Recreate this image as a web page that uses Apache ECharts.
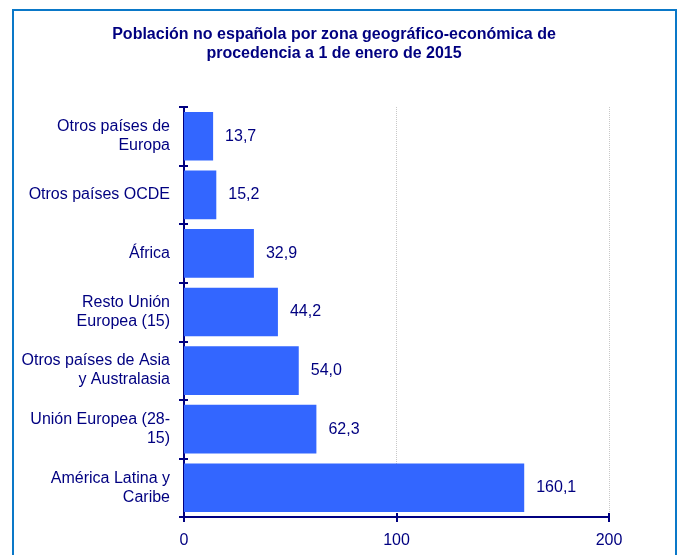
<!DOCTYPE html>
<html><head><meta charset="utf-8">
<script src="https://cdn.jsdelivr.net/npm/echarts@6/dist/echarts.min.js"></script>
<style>html,body{margin:0;padding:0;background:#fff}#c{width:679px;height:555px}</style>
</head><body><div id="c"></div>
<script>
const categories = ["Otros países de\nEuropa","Otros países OCDE","África","Resto Unión\nEuropea (15)","Otros países de Asia\ny Australasia","Unión Europea (28-\n15)","América Latina y\nCaribe"];
const values = [13.7, 15.2, 32.9, 44.2, 54.0, 62.3, 160.1];
const xTicks = [0, 100, 200];
const titleText = "Población no española por zona geográfico-económica de\nprocedencia a 1 de enero de 2015";
const navy = "#000080";
const font = "Liberation Sans, Arial, sans-serif";
const chart = echarts.init(document.getElementById('c'));
chart.setOption({
  animation:false,
  textStyle:{fontFamily:font},
  graphic:[{type:'rect',shape:{x:13,y:10,width:663,height:560},style:{fill:'none',stroke:'#0a78c8',lineWidth:2}}],
  title:{text:titleText,left:329,textAlign:'center',top:20,textStyle:{fontSize:16,fontWeight:'bold',color:navy,lineHeight:19,fontFamily:font}},
  grid:{left:184,right:70,top:107,bottom:38,containLabel:false},
  xAxis:[{type:'value',min:xTicks[0],max:xTicks[xTicks.length-1],interval:100,
    axisLine:{show:true,lineStyle:{color:navy,width:2}},
    axisTick:{show:true,length:5,lineStyle:{color:navy,width:2}},
    axisLabel:{color:navy,fontSize:16,margin:16},
    splitLine:{show:true,lineStyle:{color:'#c8c8c8',type:'dotted',width:1}}},
   {type:'value',position:'bottom',min:xTicks[0],max:xTicks[xTicks.length-1],interval:100,
    axisLine:{show:false},axisTick:{show:true,inside:true,length:4,lineStyle:{color:navy,width:2}},
    axisLabel:{show:false},splitLine:{show:false}}],
  yAxis:[{type:'category',data:categories,inverse:true,
    axisLine:{show:true,lineStyle:{color:navy,width:2}},
    axisTick:{show:true,length:5,lineStyle:{color:navy,width:2}},
    axisLabel:{color:navy,fontSize:16,margin:14,lineHeight:19,align:'right'},
    splitLine:{show:false}},
   {type:'category',data:categories,inverse:true,position:'left',
    axisLine:{show:false},axisTick:{show:true,inside:true,length:4,lineStyle:{color:navy,width:2}},
    axisLabel:{show:false},splitLine:{show:false}}],
  series:[{type:'bar',data:values,barCategoryGap:'17%',xAxisIndex:0,yAxisIndex:0,
    itemStyle:{color:'#3366ff'},
    label:{show:true,position:'right',distance:12,color:navy,fontSize:16,
      formatter:p=>p.value.toFixed(1).replace('.',',')}}]
});
</script></body></html>
